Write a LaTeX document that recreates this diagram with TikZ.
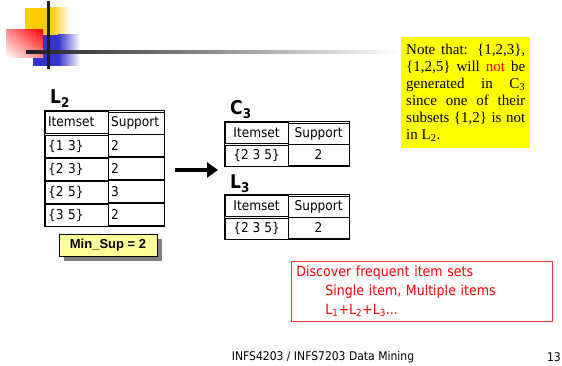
\documentclass[tikz,border=0pt]{standalone}
\usepackage{fontspec}
\setmainfont{Liberation Serif}
\newfontfamily\tah[FakeStretch=0.9]{DejaVu Sans}
\newfontfamily\arl{Liberation Sans}
\usetikzlibrary{arrows.meta,matrix,shadows,shadings}
\definecolor{decoYellow}{HTML}{FFCC00}
\definecolor{decoBlue}{HTML}{3333CC}
\definecolor{noteYellow}{HTML}{FFFF00}
\definecolor{supYellow}{HTML}{FFFF99}
\definecolor{boxRed}{HTML}{FF3333}

\begin{document}
\begin{tikzpicture}[x=1pt,y=-1pt,
	cell/.style={draw, line width=0.8pt, inner xsep=3pt, inner ysep=0pt, font=\tah\fontsize{13.5}{16}\selectfont},
	tbl/.style={matrix of nodes, draw, line width=1.4pt, inner sep=0pt, nodes={cell}, column sep=-0.8pt, row sep=-0.8pt, anchor=north west},
	setlbl/.style={font=\tah\bfseries\fontsize{19}{21}\selectfont, inner sep=0pt, anchor=base west},
	minsup/.style={draw, line width=0.6pt, fill=supYellow, minimum width=98pt, minimum height=22pt,
		font=\arl\bfseries\fontsize{13}{15}\selectfont,
		drop shadow={shadow xshift=5pt, shadow yshift=-5pt, fill=gray, opacity=1}},
	notebox/.style={fill=noteYellow, text width=119pt, minimum height=111pt, inner xsep=5pt, inner ysep=3pt,
		align=justify, font=\fontsize{15}{17}\selectfont, anchor=north west},
	redbox/.style={draw=boxRed, line width=0.8pt, text=red, align=left, text width=251pt, minimum height=60pt,
		inner xsep=5pt, font=\tah\fontsize{14}{19}\selectfont, anchor=north west},
	footer/.style={font=\tah\fontsize{12}{14}\selectfont, inner sep=0pt}]
	\useasboundingbox (0,0) rectangle (562,366);

	% slide decoration
	\fill[decoYellow] (25,8) rectangle (50,35);
	\shade[left color=decoYellow, right color=white] (50,8) rectangle (70,35);
	\fill[decoBlue] (33,35) rectangle (58,66);
	\shade[left color=decoBlue, right color=white] (58,35) rectangle (80,66);
	\shade[upper right=red, lower left=white, upper left=red!45!white, lower right=red!45!white] (6,30) rectangle (43,58);
	\shade[left color=black!88, right color=white] (26,51) rectangle (400,54);
	\fill[black!88] (46.5,1) rectangle (49.5,69);

	% L2
	\node[setlbl] (ltwolbl) at (50,104) {L\textsubscript{2}};
	\matrix (ltwo) [tbl,
		column 1/.style={nodes={text width=57pt, minimum height=22pt, align=left}},
		column 2/.style={nodes={text width=50pt, minimum height=22pt, align=left}}] at (44,110) {
		Itemset & Support \\
		\{1 3\} & 2 \\
		\{2 3\} & 2 \\
		\{2 5\} & 3 \\
		\{3 5\} & 2 \\
	};
	\node[minsup] (minsup) at (108,245) {Min\_Sup = 2};

	% C3 and L3
	\node[setlbl] (cthreelbl) at (230,115) {C\textsubscript{3}};
	\matrix (cthree) [tbl, nodes={minimum height=21pt},
		column 1/.style={nodes={minimum width=63pt}},
		column 2/.style={nodes={minimum width=61pt}}] at (224,121) {
		Itemset & Support \\
		\{2 3 5\} & 2 \\
	};
	\node[setlbl] (lthreelbl) at (230,189) {L\textsubscript{3}};
	\matrix (lthree) [tbl, nodes={minimum height=21pt},
		column 1/.style={nodes={minimum width=63pt}},
		column 2/.style={nodes={minimum width=61pt}}] at (224,194) {
		Itemset & Support \\
		\{2 3 5\} & 2 \\
	};

	\coordinate (arrfrom) at (175,170);
	\coordinate (arrto) at (218,170);
	\draw[line width=4pt, -{Triangle[length=11pt,width=15pt]}] (arrfrom) -- (arrto);

	% notes
	\node[notebox] (note) at (401,37) {Note that: \{1,2,3\},\linebreak
		\{1,2,5\} will \textcolor{red}{not} be\linebreak
		generated in C\textsubscript{3}\linebreak
		since one of their\linebreak
		subsets \{1,2\} is not\linebreak
		in L\textsubscript{2}.};
	\node[redbox] (discover) at (291,261) {Discover frequent item sets\\
		\hspace*{29pt}Single item, Multiple items\\
		\hspace*{29pt}L\textsubscript{1}+L\textsubscript{2}+L\textsubscript{3}...};

	% footer
	\node[footer] (foot) at (323,357) {INFS4203 / INFS7203 Data Mining};
	\node[footer, anchor=east] (pagenum) at (561,357) {13};
\end{tikzpicture}
\end{document}
